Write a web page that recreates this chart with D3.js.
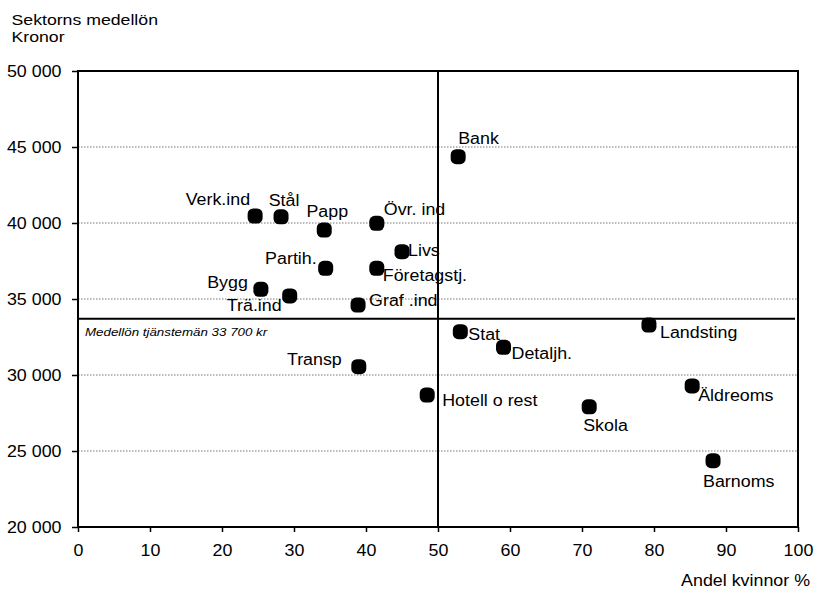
<!DOCTYPE html>
<html><head><meta charset="utf-8">
<script src="https://cdn.jsdelivr.net/npm/d3@7"></script>
<style>body{margin:0;background:#fff}svg{display:block}</style>
</head><body><svg id="c" width="817" height="590"></svg>
<script>
const sectors = ["Bank","Verk.ind","Stål","Papp","Övr. ind","Livs","Partih.","Företagstj.","Bygg","Trä.ind","Graf .ind","Transp","Hotell o rest","Stat","Detaljh.","Landsting","Äldreoms","Skola","Barnoms"];
const womenShare = [52.8,24.6,28.2,34.2,41.5,45.0,34.4,41.5,25.4,29.4,38.9,39.0,48.5,53.1,59.1,79.3,85.3,71.0,88.2];
const avgSalary = [44360,40460,40410,39540,39980,38110,37020,37020,35640,35200,34600,30550,28680,32850,31820,33290,29280,27910,24360];
const xTicks = [0,10,20,30,40,50,60,70,80,90,100];
const yTicks = [20000,25000,30000,35000,40000,45000,50000];
const referenceSalary = 33700;
const referenceShare = 50;
const referenceLabel = "Medellön tjänstemän 33 700 kr";
const yTitle = ["Sektorns medellön","Kronor"];
const xTitle = "Andel kvinnor %";

// label placement relative to marker (layout only)
const place = {
  "Bank":[0,-13,"start"],"Verk.ind":[-5,-11,"end"],"Stål":[3,-11,"middle"],"Papp":[3,-13,"middle"],
  "Övr. ind":[7,-8,"start"],"Livs":[6,4,"start"],"Partih.":[-9,-4,"end"],"Företagstj.":[6,13,"start"],
  "Bygg":[-13,-1,"end"],"Trä.ind":[-8,15,"end"],"Graf .ind":[11,1,"start"],"Transp":[-17,-2,"end"],
  "Hotell o rest":[15,11,"start"],"Stat":[8,8,"start"],"Detaljh.":[8,12,"start"],"Landsting":[11,13,"start"],
  "Äldreoms":[6,15,"start"],"Skola":[-6,24,"start"],"Barnoms":[-10,26,"start"]
};

const SX = 1.13, FS = 15.8, FONT = "'Liberation Sans', Arial, sans-serif";
const m = {l:78, t:71, r:19, b:63};
const W = 817 - m.l - m.r, H = 590 - m.t - m.b;
const svg = d3.select("#c").style("font-family", FONT);
const g = svg.append("g").attr("transform", `translate(${m.l},${m.t})`);
const x = d3.scaleLinear().domain([0,100]).range([0,W]);
const y = d3.scaleLinear().domain([20000,50000]).range([H,0]);
const loc = d3.formatLocale({decimal:",", thousands:" ", grouping:[3], currency:["",""]});
const fmt = loc.format(",d");

function txt(sel, tx, ty, s, anchor, size, style, sx) {
  return sel.append("text").attr("transform", `translate(${tx},${ty}) scale(${sx || SX},1)`)
    .attr("text-anchor", anchor).attr("font-size", size).attr("font-style", style || "normal")
    .attr("fill", "#000").text(s);
}

// gridlines
g.append("g").selectAll("line").data(yTicks.filter(d => d > 20000 && d < 50000)).join("line")
  .attr("x1", 0).attr("x2", W).attr("y1", d => y(d)).attr("y2", d => y(d))
  .attr("stroke", "#777").attr("stroke-width", 1).attr("stroke-dasharray", "1.5,1.5");

// axes
const ya = g.append("g").call(d3.axisLeft(y).tickValues(yTicks).tickSize(6).tickFormat(fmt));
const xa = g.append("g").attr("transform", `translate(0,${H})`).call(d3.axisBottom(x).tickValues(xTicks).tickSize(5));
[ya, xa].forEach(a => { a.select(".domain").remove(); a.selectAll(".tick line").attr("stroke", "#000").attr("stroke-width", 1.5); });
ya.selectAll(".tick text").attr("x", null).attr("dy", null).attr("font-size", FS).attr("font-family", FONT).attr("fill", "#000")
  .attr("transform", `translate(-16.5,5.5) scale(${SX},1)`).attr("text-anchor", "end");
xa.selectAll(".tick text").attr("y", null).attr("dy", null).attr("font-size", FS).attr("font-family", FONT).attr("fill", "#000")
  .attr("transform", `translate(0,29) scale(${SX},1)`).attr("text-anchor", "middle");

// frame
g.append("rect").attr("x", 0).attr("y", 0).attr("width", W).attr("height", H)
  .attr("fill", "none").attr("stroke", "#000").attr("stroke-width", 2);

// reference lines
g.append("line").attr("x1", x(referenceShare)).attr("x2", x(referenceShare)).attr("y1", 0).attr("y2", H)
  .attr("stroke", "#000").attr("stroke-width", 2);
g.append("line").attr("x1", 0).attr("x2", W - 3).attr("y1", y(referenceSalary)).attr("y2", y(referenceSalary))
  .attr("stroke", "#000").attr("stroke-width", 2.2);
txt(g, 7, y(referenceSalary) + 17, referenceLabel, "start", 11.8, "italic");

// points
const data = sectors.map((s, i) => ({s, xv: womenShare[i], yv: avgSalary[i]}));
const ms = 15;
g.append("g").selectAll("rect").data(data).join("rect")
  .attr("x", d => x(d.xv) - ms/2).attr("y", d => y(d.yv) - ms/2)
  .attr("width", ms).attr("height", ms).attr("rx", 5.5).attr("fill", "#000");
const lg = g.append("g");
data.forEach(d => {
  const p = place[d.s];
  txt(lg, x(d.xv) + p[0], y(d.yv) + p[1], d.s, p[2], FS);
});

// titles
txt(svg, 11.5, 24.5, yTitle[0], "start", 15, null, 1.18);
txt(svg, 11.5, 42, yTitle[1], "start", 15, null, 1.18);
txt(svg, 810, 586, xTitle, "end", FS);
</script></body></html>
